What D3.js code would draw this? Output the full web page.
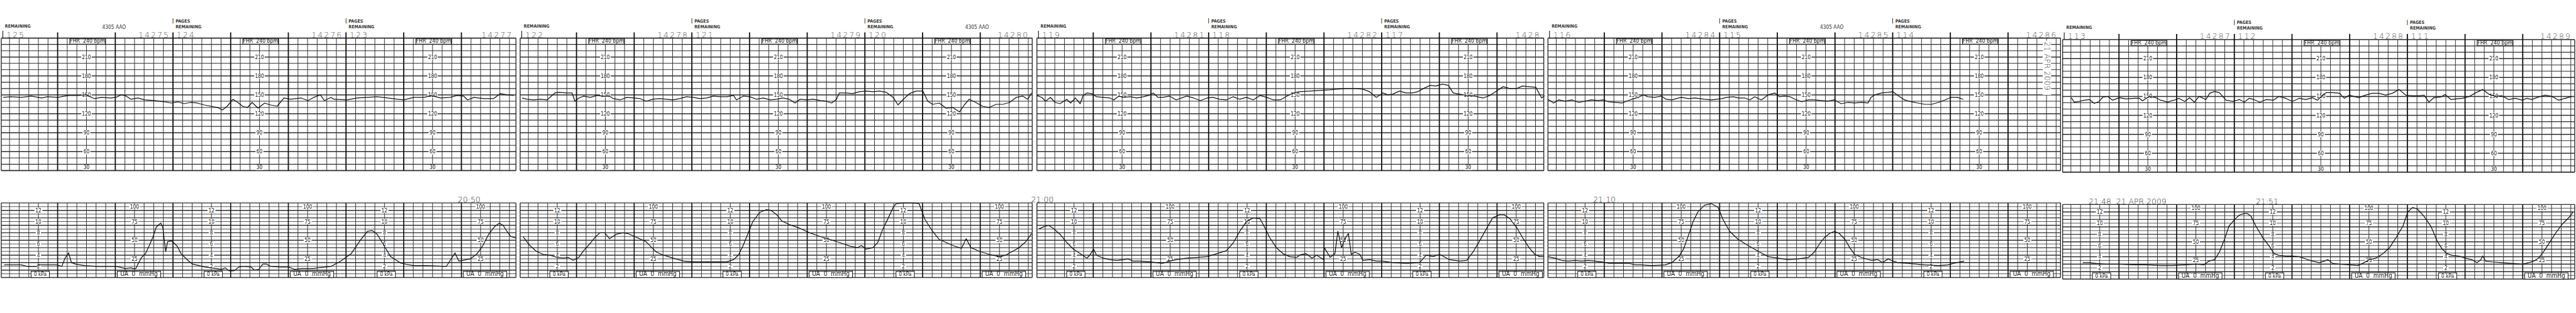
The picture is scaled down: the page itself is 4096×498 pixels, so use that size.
<!DOCTYPE html>
<html><head><meta charset="utf-8">
<script src="https://cdn.jsdelivr.net/npm/d3@7"></script>
<style>html,body{margin:0;padding:0;background:#fff;overflow:hidden}</style>
</head><body>
<svg id="c" width="4096" height="498" viewBox="0 0 4930 600"></svg>
<script>
// ---------- DATA ----------
const segLeft  = [0, 994, 1984, 2963, 3949];
const segWidth = [986, 981, 971, 982, 981];
const segDy    = [0, 0, 0, 0, 3];

const fhrTicks = [210, 180, 150, 120, 90, 60];
const uaTicks  = [100, 75, 50, 25];
const kpaTicks = [12, 10, 8, 6, 4, 2];

const leftPages   = ["125", "122", "119", "116", "113"];
const markerNums  = [["14275","14276"],["14278","14279"],["14281","14282"],["14284","14285"],["14287","14288"]];
const markerLeft  = [["124","123"],["121","120"],["118","117"],["115","114"],["112","111"]];
const rightPages  = ["14277", "14280", "1428", "14286", "14289"];
const aaoSegs     = [[0, 105], [1, 463], [3, 283]];            // [segment, seconds]
const timeMarks   = [[0, 475, "20:50"], [2, -6, "21:00"], [3, 47, "21:10"], [4, 27, "21:48  21 APR 2009"], [4, 201, "21:51"]];
const sideDate    = [3, 519, "21 APR 2009"];

// FHR traces [seconds from segment start, bpm]
const fhr1 = [[2,146],[10,147],[21,146],[31,148],[42,145],[48,147],[59,146],[66,148],[71,149],[80,149],[88,150],[97,144],[104,146],[114,145],[119,146],[125,150],[130,148],[135,143],[142,145],[149,142],[159,141],[170,139],[177,137],[184,139],[190,136],[197,138],[204,137],[211,134],[218,132],[225,130],[230,126],[235,132],[241,143],[246,138],[251,132],[256,130],[261,138],[267,129],[274,137],[280,134],[287,132],[294,145],[301,143],[312,145],[319,141],[325,146],[332,150],[336,141],[343,146],[346,143],[360,142],[370,145],[381,146],[391,147],[402,145],[412,143],[419,142],[429,146],[440,146],[447,149],[457,145],[467,146],[474,149],[481,148],[485,142],[492,146],[502,144],[512,144],[519,152],[526,150],[533,149]];
const fhr2 = [[2,145],[7,143],[14,142],[21,143],[28,142],[31,146],[36,153],[41,154],[48,153],[54,153],[57,140],[61,145],[66,148],[73,146],[80,149],[86,148],[93,148],[97,144],[104,142],[111,146],[118,145],[125,144],[131,140],[138,143],[145,144],[152,143],[159,142],[166,144],[173,147],[180,146],[187,144],[194,145],[201,148],[208,147],[215,147],[222,149],[225,142],[232,148],[239,147],[246,143],[253,145],[260,142],[267,143],[273,145],[280,143],[286,137],[291,143],[298,142],[305,143],[312,141],[318,140],[324,137],[329,143],[332,153],[339,153],[346,152],[353,155],[360,156],[367,155],[374,156],[381,154],[388,146],[393,134],[398,142],[405,152],[412,156],[419,156],[424,140],[429,135],[436,137],[443,129],[450,130],[457,123],[462,134],[467,143],[474,138],[481,132],[488,130],[495,135],[502,135],[509,138],[516,146],[523,148],[528,143],[532,153]];
const fhr3 = [[0,149],[5,146],[9,140],[14,146],[19,138],[24,136],[31,143],[35,137],[40,145],[45,136],[48,149],[52,153],[57,152],[62,147],[69,146],[76,145],[80,142],[85,148],[90,146],[97,147],[104,145],[111,147],[116,149],[121,153],[126,146],[131,146],[138,148],[145,142],[152,146],[156,148],[163,145],[170,141],[177,145],[183,146],[190,143],[197,142],[204,147],[211,143],[218,146],[225,142],[232,149],[239,146],[246,142],[253,142],[260,148],[267,153],[273,155],[284,156],[294,157],[305,158],[312,159],[322,160],[332,160],[339,159],[346,155],[353,146],[360,153],[365,150],[370,151],[377,156],[384,153],[391,153],[396,155],[402,160],[409,165],[415,164],[422,167],[428,165],[433,153],[440,151],[447,149],[455,148],[464,145],[471,149],[478,156],[485,163],[492,160],[499,160],[505,164],[512,163],[519,162],[525,145],[528,149]];
const fhr4 = [[0,143],[6,137],[11,142],[18,140],[25,142],[32,138],[39,140],[45,142],[52,141],[58,142],[63,139],[70,138],[77,137],[82,140],[87,143],[94,146],[99,150],[104,147],[111,146],[118,148],[123,143],[129,142],[136,145],[139,146],[146,144],[153,145],[163,143],[170,142],[181,144],[186,146],[193,147],[198,145],[205,145],[210,142],[215,147],[222,142],[229,150],[236,153],[241,147],[246,148],[252,147],[257,143],[264,139],[271,142],[277,142],[284,141],[291,140],[298,142],[305,136],[312,138],[319,137],[326,138],[333,137],[336,146],[340,150],[347,153],[354,154],[359,155],[364,149],[371,142],[378,139],[385,137],[392,135],[399,135],[406,138],[413,142],[419,146],[426,146],[432,143]];
const fhr5 = [[9,148],[12,141],[17,142],[23,144],[28,145],[33,139],[38,142],[42,149],[47,150],[52,144],[59,148],[66,146],[75,147],[80,147],[83,143],[90,150],[97,148],[102,144],[109,141],[116,144],[121,147],[127,142],[132,148],[137,141],[142,150],[149,145],[153,155],[158,158],[163,156],[170,144],[177,142],[184,145],[189,141],[194,147],[199,145],[205,141],[212,145],[219,144],[225,150],[232,147],[239,142],[246,147],[253,145],[260,148],[265,144],[269,150],[274,156],[281,156],[288,155],[293,147],[298,152],[308,148],[315,152],[322,155],[329,155],[336,152],[343,155],[350,161],[357,152],[364,151],[371,151],[376,152],[381,141],[386,148],[393,149],[398,153],[404,145],[409,146],[416,147],[423,150],[430,156],[437,161],[444,153],[450,150],[457,151],[464,145],[471,147],[478,144],[483,147],[488,145],[495,149],[502,152],[509,150],[516,144],[523,147],[530,150]];

// UA traces [seconds from segment start, mmHg]
const ua1 = [[3,17],[10,17],[21,17],[27,15],[37,15],[39,17],[58,17],[63,15],[66,25],[70,33],[73,20],[77,18],[87,16],[100,15],[118,15],[123,14],[129,12],[135,13],[137,12],[140,12],[143,20],[146,27],[150,32],[154,43],[158,55],[161,67],[164,71],[166,73],[168,67],[171,35],[173,48],[177,49],[179,47],[183,42],[187,32],[191,27],[195,22],[199,18],[206,16],[212,14],[218,13],[224,12],[229,11],[233,13],[237,9],[242,9],[247,14],[253,15],[260,14],[263,10],[268,11],[272,18],[276,18],[280,15],[291,14],[299,14],[305,11],[312,12],[324,12],[329,13],[343,15],[353,22],[364,32],[374,51],[381,62],[386,63],[391,58],[398,43],[405,28],[416,19],[429,16],[443,16],[463,15],[472,33],[476,22],[488,25],[495,32],[501,43],[507,58],[513,68],[518,73],[522,70],[526,62],[530,55],[535,53]];
const ua2 = [[3,55],[10,43],[17,35],[24,31],[31,30],[38,27],[45,26],[50,27],[55,23],[61,27],[66,36],[73,46],[78,54],[83,60],[88,60],[93,52],[100,58],[107,60],[112,59],[119,55],[126,51],[131,48],[137,40],[142,34],[149,30],[159,26],[170,22],[180,21],[190,21],[201,21],[215,21],[222,24],[227,30],[232,43],[237,59],[242,75],[249,87],[256,91],[261,90],[267,84],[272,76],[280,71],[291,66],[301,60],[312,55],[322,51],[332,47],[343,42],[351,40],[355,43],[360,38],[367,40],[372,47],[377,64],[383,80],[388,94],[391,99],[398,100],[409,100],[415,99],[421,78],[429,62],[436,51],[443,47],[450,43],[459,39],[464,52],[469,40],[478,35],[488,31],[499,28],[505,30],[512,35],[519,40],[526,48],[532,59]];
const ua3 = [[2,65],[7,68],[12,70],[17,66],[24,58],[31,47],[38,38],[45,32],[52,26],[55,30],[59,38],[62,30],[69,26],[76,24],[83,23],[90,24],[95,25],[100,22],[107,22],[118,21],[131,19],[138,22],[145,24],[156,26],[166,27],[177,28],[187,32],[197,36],[204,46],[211,62],[218,75],[225,80],[232,79],[237,67],[242,54],[249,40],[256,32],[263,28],[270,27],[275,31],[280,32],[286,26],[291,30],[298,24],[299,40],[305,27],[310,32],[313,62],[317,40],[320,51],[324,59],[327,31],[331,34],[336,31],[339,23],[346,24],[353,22],[360,22],[370,20],[384,19],[398,20],[405,30],[412,28],[419,31],[429,24],[440,22],[447,23],[454,35],[460,48],[467,64],[474,80],[481,84],[486,84],[492,79],[499,67],[505,54],[512,40],[518,31],[523,28],[527,28]];
const ua4 = [[0,28],[7,26],[14,23],[21,22],[28,23],[35,22],[42,23],[49,22],[56,21],[63,19],[77,19],[84,19],[91,17],[97,17],[108,16],[122,17],[129,20],[136,28],[141,38],[146,56],[151,75],[156,88],[163,97],[170,99],[177,94],[182,78],[189,62],[198,51],[208,43],[219,35],[229,28],[239,26],[250,24],[260,25],[271,27],[277,34],[283,46],[288,54],[293,59],[298,62],[303,59],[309,51],[314,40],[319,31],[326,27],[336,23],[343,24],[348,20],[354,25],[357,23],[364,20],[374,19],[392,17],[406,16],[416,17],[425,20],[433,22]];
const ua5 = [[21,22],[28,22],[35,21],[45,20],[59,20],[73,19],[87,19],[101,18],[114,18],[128,19],[139,20],[147,19],[152,24],[158,26],[163,36],[168,52],[173,71],[179,80],[184,86],[189,88],[192,88],[196,84],[201,71],[208,56],[215,44],[220,34],[225,32],[232,31],[239,31],[246,30],[253,27],[260,24],[267,22],[272,24],[276,26],[281,21],[288,20],[298,19],[307,18],[312,21],[319,26],[326,28],[333,34],[340,42],[347,56],[354,71],[359,90],[364,96],[369,94],[376,84],[383,71],[390,50],[395,40],[400,34],[405,32],[412,31],[419,28],[426,26],[431,22],[435,26],[437,31],[440,24],[447,23],[457,22],[468,21],[478,20],[485,22],[490,24],[495,28],[501,38],[506,48],[513,62],[520,74],[527,83],[531,90]];

const fhrData = [fhr1, fhr2, fhr3, fhr4, fhr5];
const uaData  = [ua1, ua2, ua3, ua4, ua5];

// ---------- SCALES ----------
const xS = d3.scaleLinear().domain([0, 60]).range([0, 110.5]);   // seconds -> px in a segment
const yF = d3.scaleLinear().domain([30, 240]).range([327, 73]);  // bpm
const yU = d3.scaleLinear().domain([0, 100]).range([532, 389]);  // mmHg
const firstMajor = 58.6;   // seconds of first 1-minute line

const svg = d3.select("#c");
svg.append("rect").attr("width", 4930).attr("height", 600).attr("fill", "#fff");

const narrow = "'Liberation Sans Narrow','DejaVu Sans Condensed','Liberation Sans',sans-serif";
const thin = "'DejaVu Sans',sans-serif";

function label(g, x, y, txt, size) {
  const w = txt.length * size * 0.5 + 5;
  g.append("rect").attr("x", x - w / 2).attr("y", y - size * 0.5).attr("width", w).attr("height", size)
    .attr("fill", "#fff");
  g.append("text").attr("x", x).attr("y", y + size * 0.36).attr("text-anchor", "middle")
    .attr("font-family", narrow).attr("font-size", size).attr("fill", "#111").text(txt);
}
function box(g, x0, x1, y0, y1, txt, size) {
  g.append("rect").attr("x", x0).attr("y", y0).attr("width", x1 - x0).attr("height", y1 - y0)
    .attr("fill", "#fff").attr("stroke", "#111").attr("stroke-width", 1.2);
  g.append("text").attr("x", (x0 + x1) / 2).attr("y", y1 - 2.5).attr("text-anchor", "middle")
    .attr("font-family", narrow).attr("font-size", size).attr("fill", "#111")
    .attr("xml:space", "preserve").text(txt);
}

segLeft.forEach((L, i) => {
  const W = segWidth[i];
  const g = svg.append("g").attr("transform", `translate(${L},${segDy[i]})`);
  const tMax = xS.invert(W);
  const vt = d3.range(firstMajor - 60, tMax + 1, 10).filter(t => xS(t) > 1 && xS(t) < W - 1);
  const isMajor = t => Math.round((t - firstMajor) / 10) % 6 === 0;

  // --- FHR grid ---
  const gf = g.append("g");
  d3.range(30, 241, 10).forEach(v => {
    gf.append("line").attr("x1", 0).attr("x2", W).attr("y1", yF(v)).attr("y2", yF(v))
      .attr("stroke", "#2a2a2a").attr("stroke-width", v % 30 === 0 ? 1.9 : 1.3);
  });
  vt.forEach(t => {
    const m = isMajor(t);
    gf.append("line").attr("x1", xS(t)).attr("x2", xS(t))
      .attr("y1", m ? 62 : yF(240)).attr("y2", yF(30))
      .attr("stroke", m ? "#111" : "#333").attr("stroke-width", m ? 2.2 : 1.2);
  });
  [0, W].forEach(x => gf.append("line").attr("x1", x).attr("x2", x).attr("y1", yF(240)).attr("y2", yF(30))
    .attr("stroke", "#222").attr("stroke-width", 1.6));

  // --- UA grid ---
  const gu = g.append("g");
  d3.range(0, 101, 5).forEach(v => {
    gu.append("line").attr("x1", 0).attr("x2", W).attr("y1", yU(v)).attr("y2", yU(v))
      .attr("stroke", "#2a2a2a").attr("stroke-width", v % 10 === 0 ? 1.7 : 1.0);
  });
  vt.forEach(t => {
    const m = isMajor(t);
    gu.append("line").attr("x1", xS(t)).attr("x2", xS(t)).attr("y1", yU(100)).attr("y2", yU(0))
      .attr("stroke", m ? "#111" : "#333").attr("stroke-width", m ? 2.0 : 1.2);
  });
  [0, W].forEach(x => gu.append("line").attr("x1", x).attr("x2", x).attr("y1", yU(100)).attr("y2", yU(0))
    .attr("stroke", "#222").attr("stroke-width", 1.6));

  // --- scale columns ---
  [0, 1, 2].forEach(k => {
    const cf = xS(firstMajor + 30 + k * 180);
    if (cf < W - 20) {
      box(g, cf - 32, cf + 36, yF(240) + 1.5, yF(230) - 0.5, "FHR  240 bpm", 10.5);
      fhrTicks.forEach(v => label(g, cf, yF(v), String(v), 10));
      label(g, cf, yF(35), "30", 10);
    }
    const ck = xS(firstMajor - 20 + k * 180);
    if (ck < W - 20) {
      kpaTicks.forEach(v => label(g, ck, yU(v * 7.5), String(v), 10));
      box(g, ck - 14, ck + 21, yU(8.4), yU(0), "0 kPa", 10);
    }
    const cm = xS(firstMajor + 80 + k * 180);
    if (cm < W - 20) {
      label(g, cm, yU(95), "100", 10);
      uaTicks.slice(1).forEach(v => label(g, cm, yU(v), String(v), 10));
      box(g, cm - 33, cm + 50, yU(8.4), yU(0), "UA  0  mmHg", 12);
    }
  });

  // --- header texts ---
  g.append("text").attr("x", 7).attr("y", 53).attr("font-family", narrow).attr("font-size", 8.5)
    .attr("font-weight", "bold").attr("fill", "#333").text("REMAINING");
  g.append("line").attr("x1", 3).attr("x2", 3).attr("y1", 59).attr("y2", 73).attr("stroke", "#222").attr("stroke-width", 1.4);
  g.append("text").attr("x", 10).attr("y", 72).attr("font-family", thin).attr("font-weight", 200)
    .attr("font-size", 15).attr("letter-spacing", 2.5).attr("fill", "#555").text(leftPages[i]);
  [2, 5].forEach((mi, j) => {
    const xm = xS(firstMajor + mi * 60);
    g.append("line").attr("x1", xm).attr("x2", xm).attr("y1", 35).attr("y2", 45).attr("stroke", "#333").attr("stroke-width", 1.2);
    g.append("text").attr("x", xm + 5).attr("y", 43).attr("font-family", narrow).attr("font-size", 8.5)
      .attr("font-weight", "bold").attr("fill", "#333").text("PAGES");
    g.append("text").attr("x", xm + 5).attr("y", 54).attr("font-family", narrow).attr("font-size", 8.5)
      .attr("font-weight", "bold").attr("fill", "#333").text("REMAINING");
    g.append("text").attr("x", xm - 6).attr("y", 72).attr("text-anchor", "end").attr("font-family", thin)
      .attr("font-weight", 200).attr("font-size", 15).attr("letter-spacing", 2.5).attr("fill", "#555").text(markerNums[i][j]);
    g.append("text").attr("x", xm + 7).attr("y", 72).attr("font-family", thin)
      .attr("font-weight", 200).attr("font-size", 15).attr("letter-spacing", 2.5).attr("fill", "#555").text(markerLeft[i][j]);
  });
  g.append("text").attr("y", 72).attr("x", W - 6).attr("text-anchor", "end").attr("font-family", thin)
    .attr("font-weight", 200).attr("font-size", 15).attr("letter-spacing", 2.5).attr("fill", "#555").text(rightPages[i]);

  // --- traces ---
  const lf = d3.line().x(d => xS(d[0])).y(d => yF(d[1]));
  const lu = d3.line().x(d => xS(d[0])).y(d => yU(d[1]));
  g.append("path").datum(fhrData[i]).attr("d", lf).attr("fill", "none")
    .attr("stroke", "#111").attr("stroke-width", 1.5).attr("stroke-linejoin", "round");
  g.append("path").datum(uaData[i]).attr("d", lu).attr("fill", "none")
    .attr("stroke", "#111").attr("stroke-width", 1.5).attr("stroke-linejoin", "round");
});

// "4305 AAO"
aaoSegs.forEach(([s, t]) => {
  svg.append("text").attr("x", segLeft[s] + xS(t)).attr("y", 56 + segDy[s]).attr("font-family", narrow)
    .attr("font-size", 10).attr("fill", "#333").text("4305 AAO");
});
// time stamps
timeMarks.forEach(([s, t, txt]) => {
  svg.append("text").attr("x", segLeft[s] + xS(t)).attr("y", 388 + segDy[s]).attr("font-family", thin)
    .attr("font-weight", 200).attr("font-size", 15).attr("fill", "#333").attr("xml:space", "preserve").text(txt);
});
// vertical date
{
  const [s, t, txt] = sideDate;
  const x = segLeft[s] + xS(t), y = 78;
  svg.append("rect").attr("x", x - 8).attr("y", y).attr("width", 16).attr("height", 104).attr("fill", "#fff");
  svg.append("text").attr("transform", `translate(${x - 5},${y + 2}) rotate(90)`).attr("font-family", thin)
    .attr("font-weight", 200).attr("font-size", 14.5).attr("fill", "#333").text(txt);
}
</script>
</body></html>
